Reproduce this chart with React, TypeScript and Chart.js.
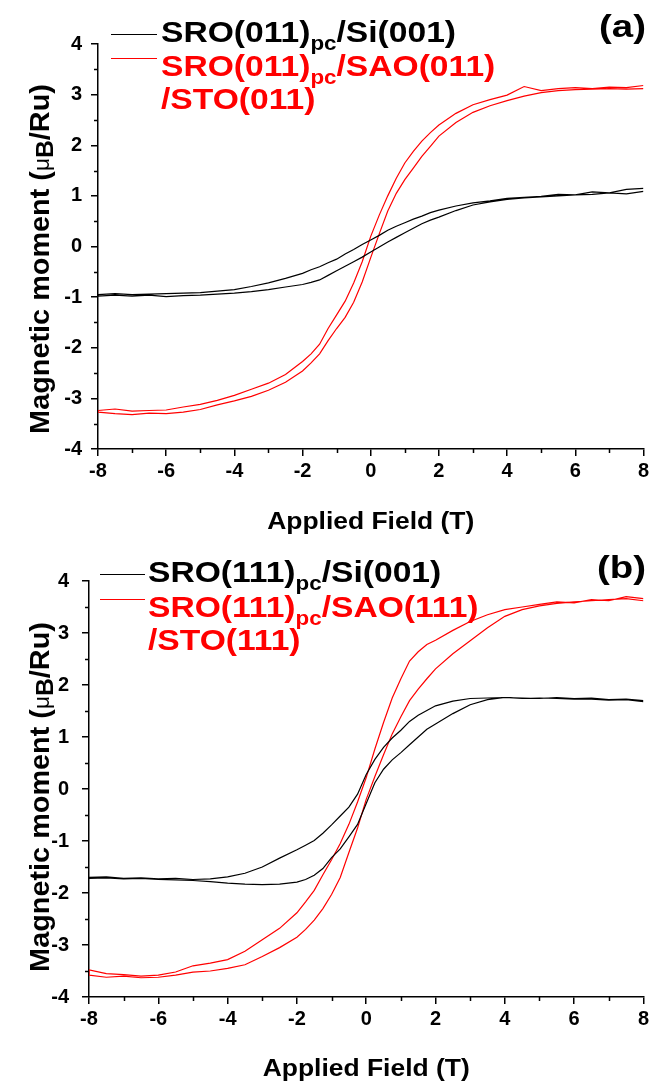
import React, { useEffect, useRef } from 'react';
import { Chart, registerables } from 'chart.js';

Chart.register(...registerables);

const FONT = '"Liberation Sans", Arial, sans-serif';

// Applied field grid (T)
const FIELD = [-8, -7.5, -7, -6.5, -6, -5.5, -5, -4.5, -4, -3.5, -3, -2.5,
  -2, -1.75, -1.5, -1.25, -1, -0.75, -0.5, -0.25, 0, 0.25, 0.5, 0.75, 1, 1.25, 1.5, 1.75, 2,
  2.5, 3, 3.5, 4, 4.5, 5, 5.5, 6, 6.5, 7, 7.5, 8];

const X_TICKS = [-8, -6, -4, -2, 0, 2, 4, 6, 8];
const Y_TICKS = [-4, -3, -2, -1, 0, 1, 2, 3, 4];

// Panel (a): SRO(011)pc/Si(001)  (black)
const A_BLACK_DOWN = [-0.95, -0.93, -0.95, -0.94, -0.93, -0.92, -0.91, -0.88, -0.85, -0.79, -0.72, -0.63,
  -0.53, -0.46, -0.40, -0.32, -0.25, -0.15, -0.06, 0.04, 0.13, 0.22, 0.32, 0.40, 0.47, 0.54, 0.60, 0.67, 0.72,
  0.80, 0.86, 0.90, 0.95, 0.97, 0.99, 1.03, 1.02, 1.08, 1.06, 1.13, 1.15];
const A_BLACK_UP = [-0.98, -0.96, -0.98, -0.96, -0.99, -0.97, -0.96, -0.94, -0.92, -0.89, -0.85, -0.80,
  -0.75, -0.71, -0.66, -0.57, -0.48, -0.39, -0.30, -0.21, -0.11, -0.01, 0.09, 0.18, 0.27, 0.36, 0.45, 0.52, 0.58,
  0.71, 0.82, 0.88, 0.93, 0.96, 0.98, 1.00, 1.02, 1.03, 1.06, 1.04, 1.09];
// Panel (a): SRO(011)pc/SAO(011)/STO(011)  (red)
const A_RED_DOWN = [-3.24, -3.21, -3.25, -3.24, -3.23, -3.17, -3.12, -3.04, -2.94, -2.82, -2.70, -2.53,
  -2.27, -2.12, -1.93, -1.62, -1.35, -1.08, -0.72, -0.30, 0.20, 0.62, 1.00, 1.35, 1.65, 1.88, 2.08, 2.25, 2.40,
  2.63, 2.80, 2.90, 2.99, 3.16, 3.08, 3.12, 3.14, 3.12, 3.15, 3.14, 3.18];
const A_RED_UP = [-3.27, -3.30, -3.32, -3.29, -3.30, -3.27, -3.22, -3.13, -3.05, -2.96, -2.84, -2.68,
  -2.46, -2.30, -2.12, -1.86, -1.62, -1.40, -1.10, -0.70, -0.22, 0.25, 0.70, 1.05, 1.32, 1.55, 1.78, 1.98, 2.18,
  2.45, 2.65, 2.78, 2.88, 2.97, 3.04, 3.08, 3.10, 3.11, 3.12, 3.11, 3.12];

// Panel (b): SRO(111)pc/Si(001)  (black)
const B_BLACK_DOWN = [-1.70, -1.69, -1.72, -1.71, -1.73, -1.72, -1.74, -1.73, -1.69, -1.62, -1.50, -1.33,
  -1.17, -1.08, -0.99, -0.85, -0.69, -0.52, -0.35, -0.10, 0.28, 0.57, 0.80, 0.98, 1.13, 1.30, 1.42, 1.51, 1.60,
  1.69, 1.74, 1.75, 1.76, 1.74, 1.75, 1.74, 1.73, 1.73, 1.71, 1.72, 1.68];
const B_BLACK_UP = [-1.72, -1.71, -1.73, -1.72, -1.74, -1.75, -1.76, -1.78, -1.81, -1.83, -1.84, -1.83,
  -1.79, -1.74, -1.66, -1.53, -1.32, -1.15, -0.92, -0.68, -0.28, 0.12, 0.38, 0.56, 0.70, 0.85, 1.00, 1.15, 1.25,
  1.45, 1.62, 1.72, 1.76, 1.75, 1.74, 1.76, 1.74, 1.75, 1.72, 1.73, 1.70];
// Panel (b): SRO(111)pc/SAO(111)/STO(111)  (red)
const B_RED_DOWN = [-3.48, -3.55, -3.57, -3.60, -3.58, -3.52, -3.40, -3.35, -3.28, -3.12, -2.90, -2.68,
  -2.38, -2.17, -1.95, -1.65, -1.36, -1.05, -0.68, -0.25, 0.22, 0.77, 1.28, 1.75, 2.12, 2.46, 2.64, 2.78, 2.86,
  3.05, 3.22, 3.35, 3.45, 3.50, 3.55, 3.60, 3.58, 3.64, 3.62, 3.70, 3.66];
const B_RED_UP = [-3.58, -3.62, -3.60, -3.63, -3.62, -3.58, -3.52, -3.50, -3.45, -3.38, -3.22, -3.05,
  -2.85, -2.70, -2.52, -2.30, -2.03, -1.70, -1.22, -0.75, -0.20, 0.24, 0.66, 1.06, 1.39, 1.70, 1.92, 2.12, 2.31,
  2.60, 2.85, 3.10, 3.32, 3.45, 3.52, 3.57, 3.60, 3.62, 3.64, 3.66, 3.62];

const BLACK = '#000000';
const RED = '#ff0000';

type Seg = { t: string; sub?: boolean };
type LegendLine = { color: string; sample: boolean; segs: Seg[]; baseline: number; sampleY?: number };

interface PanelSpec {
  top: number;
  height: number;
  area: { left: number; top: number; right: number; bottom: number };
  series: { color: string; down: number[]; up: number[] }[];
  legendX: number;
  sampleX0: number;
  sampleX1: number;
  legend: LegendLine[];
  tag: string;
  tagBaseline: number;
  yTitleX: number;
  yTitleY: number;
  xTitleBaseline: number;
  yPad: number;
  xPad: number;
}

const PANEL_A: PanelSpec = {
  top: 0,
  height: 540,
  area: { left: 98, top: 44, right: 646, bottom: 449 },
  series: [
    { color: BLACK, down: A_BLACK_DOWN, up: A_BLACK_UP },
    { color: RED, down: A_RED_DOWN, up: A_RED_UP },
  ],
  legendX: 161,
  sampleX0: 111,
  sampleX1: 157,
  legend: [
    { color: BLACK, sample: true, sampleY: 34, baseline: 42, segs: [{ t: 'SRO(011)' }, { t: 'pc', sub: true }, { t: '/Si(001)' }] },
    { color: RED, sample: true, sampleY: 58, baseline: 76, segs: [{ t: 'SRO(011)' }, { t: 'pc', sub: true }, { t: '/SAO(011)' }] },
    { color: RED, sample: false, baseline: 109, segs: [{ t: '/STO(011)' }] },
  ],
  tag: '(a)',
  tagBaseline: 37,
  yTitleX: 39,
  yTitleY: 259,
  xTitleBaseline: 529,
  yPad: 9,
  xPad: 3,
};

const PANEL_B: PanelSpec = {
  top: 540,
  height: 543,
  area: { left: 89, top: 41, right: 646, bottom: 457 },
  series: [
    { color: BLACK, down: B_BLACK_DOWN, up: B_BLACK_UP },
    { color: RED, down: B_RED_DOWN, up: B_RED_UP },
  ],
  legendX: 148,
  sampleX0: 100,
  sampleX1: 145,
  legend: [
    { color: BLACK, sample: true, sampleY: 34, baseline: 42, segs: [{ t: 'SRO(111)' }, { t: 'pc', sub: true }, { t: '/Si(001)' }] },
    { color: RED, sample: true, sampleY: 59, baseline: 77, segs: [{ t: 'SRO(111)' }, { t: 'pc', sub: true }, { t: '/SAO(111)' }] },
    { color: RED, sample: false, baseline: 110, segs: [{ t: '/STO(111)' }] },
  ],
  tag: '(b)',
  tagBaseline: 38,
  yTitleX: 39,
  yTitleY: 257,
  xTitleBaseline: 536,
  yPad: 13,
  xPad: 3,
};

type Part = { t: string; f: string; dy: number };

// Draw a run of text pieces with a horizontal stretch factor; returns drawn width.
function drawParts(ctx: CanvasRenderingContext2D, parts: Part[], x: number, baseline: number, sx: number, align: 'left' | 'center' | 'right') {
  let total = 0;
  for (const p of parts) {
    ctx.font = p.f;
    total += ctx.measureText(p.t).width;
  }
  let start = x;
  if (align === 'center') start = x - (total * sx) / 2;
  if (align === 'right') start = x - total * sx;
  ctx.save();
  ctx.translate(start, baseline);
  ctx.scale(sx, 1);
  ctx.textAlign = 'left';
  ctx.textBaseline = 'alphabetic';
  let cx = 0;
  for (const p of parts) {
    ctx.font = p.f;
    ctx.fillText(p.t, cx, p.dy);
    cx += ctx.measureText(p.t).width;
  }
  ctx.restore();
  return total * sx;
}

function Panel({ spec }: { spec: PanelSpec }) {
  const ref = useRef<HTMLCanvasElement | null>(null);

  useEffect(() => {
    if (!ref.current) return;
    const datasets = spec.series.map((s) => {
      const pts: { x: number; y: number }[] = [];
      for (let i = FIELD.length - 1; i >= 0; i--) pts.push({ x: FIELD[i], y: s.down[i] });
      for (let i = 0; i < FIELD.length; i++) pts.push({ x: FIELD[i], y: s.up[i] });
      return {
        data: pts,
        borderColor: s.color,
        backgroundColor: s.color,
        borderWidth: 1.2,
        pointRadius: 0,
        tension: 0,
        fill: false,
      };
    });

    const decor = {
      id: 'decor',
      afterDraw(chart: any) {
        const ctx: CanvasRenderingContext2D = chart.ctx;
        const xs = chart.scales.x;
        const ys = chart.scales.y;
        const a = chart.chartArea;
        ctx.save();
        // minor ticks
        ctx.strokeStyle = BLACK;
        ctx.lineWidth = 1.5;
        ctx.beginPath();
        for (let v = -7; v <= 7; v += 2) {
          const px = Math.round(xs.getPixelForValue(v)) + 0.5;
          ctx.moveTo(px, a.bottom);
          ctx.lineTo(px, a.bottom + 4);
        }
        for (let v = -3.5; v <= 3.5; v += 1) {
          const py = Math.round(ys.getPixelForValue(v)) + 0.5;
          ctx.moveTo(a.left, py);
          ctx.lineTo(a.left - 4, py);
        }
        ctx.stroke();

        // legend
        for (const l of spec.legend) {
          if (l.sample && l.sampleY !== undefined) {
            ctx.strokeStyle = l.color;
            ctx.lineWidth = 1.2;
            ctx.beginPath();
            ctx.moveTo(spec.sampleX0, l.sampleY + 0.5);
            ctx.lineTo(spec.sampleX1, l.sampleY + 0.5);
            ctx.stroke();
          }
          ctx.fillStyle = l.color;
          const parts: Part[] = l.segs.map((s) => ({
            t: s.t,
            f: `bold ${s.sub ? 20 : 30}px ${FONT}`,
            dy: s.sub ? 8 : 0,
          }));
          drawParts(ctx, parts, spec.legendX, l.baseline, 1.12, 'left');
        }

        // panel tag
        ctx.fillStyle = BLACK;
        drawParts(ctx, [{ t: spec.tag, f: `bold 32px ${FONT}`, dy: 0 }], 646, spec.tagBaseline, 1.2, 'right');

        // x title
        drawParts(ctx, [{ t: 'Applied Field (T)', f: `bold 23px ${FONT}`, dy: 0 }], (a.left + a.right) / 2, spec.xTitleBaseline, 1.15, 'center');

        // y title (rotated, with mu and subscript B)
        ctx.save();
        ctx.translate(spec.yTitleX, spec.yTitleY);
        ctx.rotate(-Math.PI / 2);
        drawParts(
          ctx,
          [
            { t: 'Magnetic moment (', f: `bold 28px ${FONT}`, dy: 0 },
            { t: 'μ', f: `22px ${FONT}`, dy: 0 },
            { t: 'B', f: `bold 24px ${FONT}`, dy: 4 },
            { t: '/Ru)', f: `bold 28px ${FONT}`, dy: 0 },
          ],
          0,
          10,
          1.03,
          'center'
        );
        ctx.restore();
        ctx.restore();
      },
    };

    const tickFont = { family: FONT, size: 20, weight: 'bold' as const };
    const chart = new Chart(ref.current, {
      type: 'line',
      data: { datasets: datasets as any },
      options: {
        animation: false,
        responsive: false,
        maintainAspectRatio: false,
        layout: { padding: { top: spec.area.top, left: 0, right: 652 - spec.area.right, bottom: 0 } },
        plugins: { legend: { display: false }, tooltip: { enabled: false } },
        scales: {
          x: {
            type: 'linear',
            min: -8,
            max: 8,
            afterBuildTicks: (s: any) => {
              s.ticks = X_TICKS.map((v) => ({ value: v }));
            },
            ticks: { color: BLACK, font: tickFont, padding: spec.xPad, maxRotation: 0, autoSkip: false },
            grid: { display: true, drawOnChartArea: false, drawTicks: true, tickLength: 7, color: BLACK, lineWidth: 1.5 },
            border: { display: true, color: BLACK, width: 1.5 },
            afterFit: (s: any) => {
              s.height = spec.height - spec.area.bottom;
            },
          },
          y: {
            type: 'linear',
            min: -4,
            max: 4,
            afterBuildTicks: (s: any) => {
              s.ticks = Y_TICKS.map((v) => ({ value: v }));
            },
            ticks: { color: BLACK, font: tickFont, padding: spec.yPad, autoSkip: false },
            grid: { display: true, drawOnChartArea: false, drawTicks: true, tickLength: 7, color: BLACK, lineWidth: 1.5 },
            border: { display: true, color: BLACK, width: 1.5 },
            afterFit: (s: any) => {
              s.width = spec.area.left;
            },
          },
        },
      },
      plugins: [decor],
    });
    return () => chart.destroy();
  }, [spec]);

  return (
    <canvas
      ref={ref}
      width={652}
      height={spec.height}
      style={{ position: 'absolute', left: 0, top: spec.top, width: 652, height: spec.height, display: 'block' }}
    />
  );
}

export default function App() {
  return (
    <div style={{ position: 'absolute', left: 0, top: 0, width: 652, height: 1083, background: '#ffffff', overflow: 'hidden' }}>
      <Panel spec={PANEL_A} />
      <Panel spec={PANEL_B} />
    </div>
  );
}
